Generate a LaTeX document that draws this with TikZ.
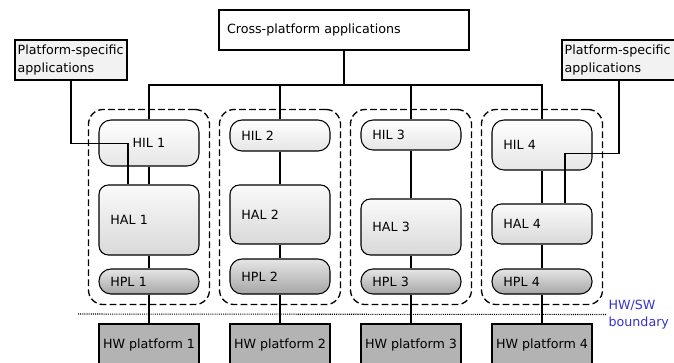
\documentclass[tikz,border=0pt]{standalone}
\usepackage{fontspec}
\setmainfont{DejaVu Sans}
\usetikzlibrary{fit,backgrounds}
\definecolor{bndblue}{HTML}{3333CC}
\definecolor{psgray}{HTML}{F2F2F2}
\definecolor{hwgray}{HTML}{B3B3B3}

\begin{document}
\begin{tikzpicture}[
    x=0.75pt, y=-0.75pt,
    font=\fontsize{9.5pt}{13pt}\selectfont,
    layer/.style={draw, line width=0.8pt, minimum width=75pt, text width=58pt,
      align=left, inner xsep=8.5pt, inner ysep=2pt},
    hil/.style={layer, rounded corners=9pt, top color=white, bottom color=black!10},
    hal/.style={layer, rounded corners=7pt, top color=black!2, bottom color=black!15},
    hpl/.style={layer, rounded corners=9pt, top color=black!10, bottom color=black!35},
    hw/.style={draw, line width=0.8pt, fill=hwgray, minimum width=75pt,
      minimum height=31.5pt, inner sep=1pt, align=center},
    app/.style={draw, line width=0.8pt, fill=white, minimum height=30pt,
      text width=175.5pt, align=left, inner xsep=6pt},
    papp/.style={draw, line width=0.8pt, fill=psgray, minimum height=30pt,
      align=left, inner xsep=2pt, inner ysep=1pt},
    zone/.style={draw, line width=1pt, dash pattern=on 5pt off 2.5pt,
      rounded corners=11pt, inner sep=7.5pt},
    wire/.style={draw, line width=0.8pt},
    bound/.style={line width=0.8pt, dash pattern=on 0.8pt off 0.8pt}
  ]
    \useasboundingbox (0,0) rectangle (674,362);

    % applications
    \node[app] (cpapp) at (344,30) {Cross-platform applications};
    \node[papp, text width=80pt] (psapp1) at (71,60) {Platform-specific\\applications};
    \node[papp, text width=81.5pt] (psapp2) at (619,60) {Platform-specific\\applications};

    % column 1
    \node[hil, minimum height=34.5pt, align=center] (hil1) at (149,143) {HIL 1};
    \node[hal, minimum height=52.5pt] (hal1) at (149,220) {HAL 1};
    \node[hpl, minimum height=18.75pt] (hpl1) at (149,281.5) {HPL 1};
    \node[hw] (hw1) at (149,345) {HW platform 1};

    % column 2
    \node[hil, minimum height=23.25pt] (hil2) at (280,135.5) {HIL 2};
    \node[hal, minimum height=44.25pt] (hal2) at (280,214.5) {HAL 2};
    \node[hpl, minimum height=26.25pt] (hpl2) at (280,276.5) {HPL 2};
    \node[hw] (hw2) at (280,345) {HW platform 2};

    % column 3
    \node[hil, minimum height=22.5pt] (hil3) at (411,135) {HIL 3};
    \node[hal, minimum height=42pt] (hal3) at (411,227) {HAL 3};
    \node[hpl, minimum height=18.75pt] (hpl3) at (411,281.5) {HPL 3};
    \node[hw] (hw3) at (411,345) {HW platform 3};

    % column 4
    \node[hil, minimum height=37.5pt] (hil4) at (542,145) {HIL 4};
    \node[hal, minimum height=30pt] (hal4) at (542,224) {HAL 4};
    \node[hpl, minimum height=18.75pt] (hpl4) at (542,281.5) {HPL 4};
    \node[hw] (hw4) at (542,345) {HW platform 4};

    \begin{scope}[on background layer]
      \node[zone, fit=(hil1)(hpl1)] (zone1) {};
      \node[zone, fit=(hil2)(hpl2)] (zone2) {};
      \node[zone, fit=(hil3)(hpl3)] (zone3) {};
      \node[zone, fit=(hil4)(hpl4)] (zone4) {};
    \end{scope}

    % bus to the HILs
    \coordinate (bus) at (0,85);
    \draw[wire] (cpapp.south) -- (cpapp.south |- bus);
    \draw[wire] (hil1.north) -- (hil1.north |- bus) -- (hil4.north |- bus) -- (hil4.north);
    \draw[wire] (hil2.north) -- (hil2.north |- bus);
    \draw[wire] (hil3.north) -- (hil3.north |- bus);

    \foreach \i in {1,...,4}
      \draw[wire] (hil\i) -- (hal\i) -- (hpl\i) -- (hw\i);

    % platform-specific links
    \draw[wire] (psapp1.south) -- ++(0,63) -| ([xshift=-15.75pt]hal1.north);
    \draw[wire] (psapp2.south) -- ++(0,73) -| ([xshift=17.25pt]hal4.north);

    % HW/SW boundary
    \node[text=bndblue, align=left, anchor=west, inner sep=1pt,
          font=\fontsize{9.5pt}{12.75pt}\selectfont] (hwsw) at (607,314.5) {HW/SW\\boundary};
    \coordinate (bnd) at (78,314);
    \draw[bound] (bnd) -- (hwsw.west);
  \end{tikzpicture}
\end{document}
